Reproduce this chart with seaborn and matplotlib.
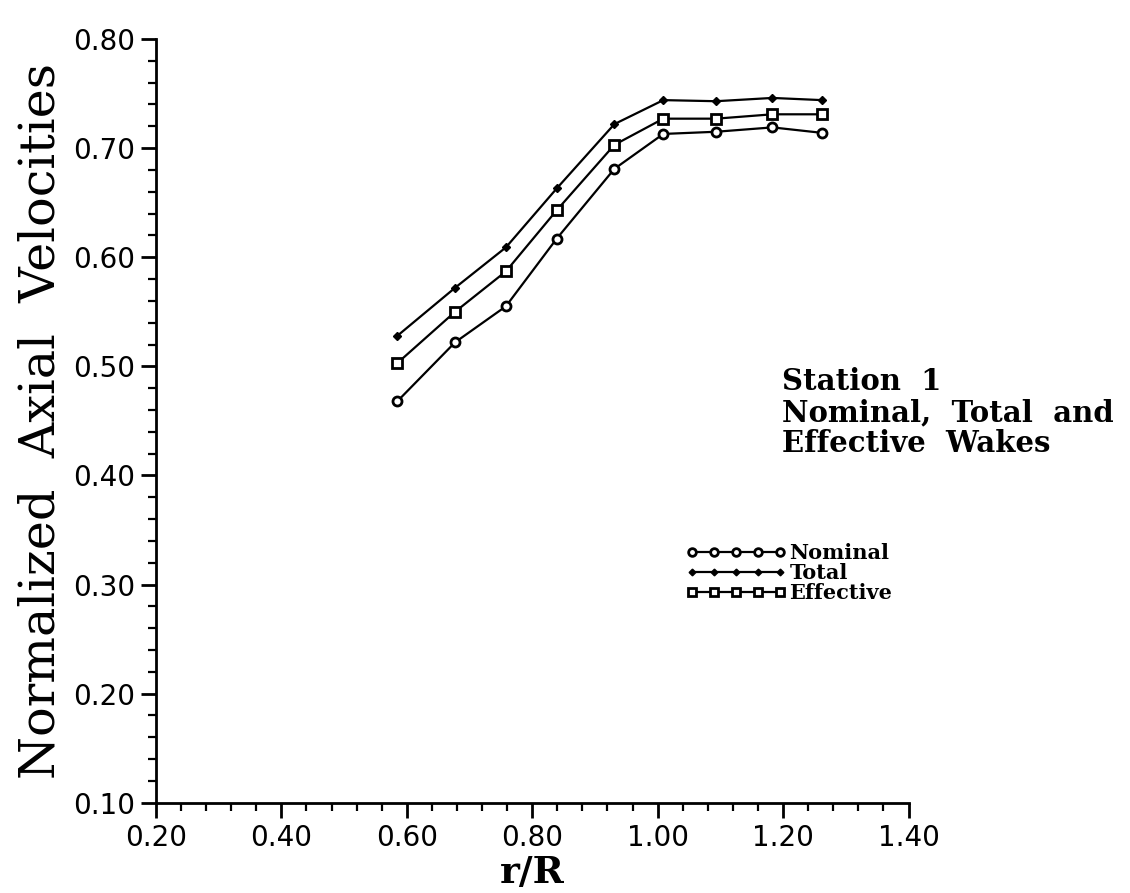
import matplotlib
matplotlib.use("Agg")
import matplotlib.pyplot as plt
import seaborn as sns
import pandas as pd
from matplotlib.ticker import MultipleLocator, FormatStrFormatter

# Radial stations and measured normalized axial velocities
r_over_R = [0.585, 0.677, 0.758, 0.839, 0.931, 1.009, 1.093, 1.183, 1.262]
nominal = [0.468, 0.522, 0.555, 0.617, 0.681, 0.713, 0.715, 0.719, 0.714]
total = [0.528, 0.572, 0.609, 0.663, 0.722, 0.744, 0.743, 0.746, 0.744]
effective = [0.503, 0.550, 0.587, 0.643, 0.703, 0.727, 0.727, 0.731, 0.731]

series_names = ["Nominal", "Total", "Effective"]
x_ticks = [0.20, 0.40, 0.60, 0.80, 1.00, 1.20, 1.40]
y_ticks = [0.10, 0.20, 0.30, 0.40, 0.50, 0.60, 0.70, 0.80]

df = pd.DataFrame({
    "r/R": r_over_R * 3,
    "V": nominal + total + effective,
    "wake": sum([[n] * len(r_over_R) for n in series_names], []),
})

sns.set_style("ticks")
plt.rcParams["font.family"] = ["DejaVu Sans"]
plt.rcParams["text.color"] = "black"
plt.rcParams["axes.labelcolor"] = "black"

fig = plt.figure(figsize=(11.3, 8.93), dpi=100)
ax = fig.add_axes([0.138, 0.1011, 0.666, 0.8552])

styles = {
    "Nominal": dict(marker="o", markersize=6.5, markerfacecolor="white",
                    markeredgewidth=2.0),
    "Total": dict(marker="D", markersize=4, markerfacecolor="black",
                  markeredgewidth=1.0),
    "Effective": dict(marker="s", markersize=6.5, markerfacecolor="white",
                      markeredgewidth=2.0),
}

handles = []
for name in series_names:
    sub = df[df["wake"] == name]
    sns.lineplot(data=sub, x="r/R", y="V", ax=ax, color="black",
                 linewidth=1.6, legend=False, markeredgecolor="black",
                 **styles[name])
    handles.append(ax.get_lines()[-1])

ax.set_xlim(0.20, 1.40)
ax.set_ylim(0.10, 0.80)
ax.set_xticks(x_ticks)
ax.set_yticks(y_ticks)
ax.xaxis.set_major_formatter(FormatStrFormatter("%.2f"))
ax.yaxis.set_major_formatter(FormatStrFormatter("%.2f"))
ax.xaxis.set_minor_locator(MultipleLocator(0.04))
ax.yaxis.set_minor_locator(MultipleLocator(0.02))

for s in ["top", "right"]:
    ax.spines[s].set_visible(False)
for s in ["left", "bottom"]:
    ax.spines[s].set_linewidth(2.0)
    ax.spines[s].set_color("black")

ax.tick_params(axis="both", which="major", direction="out", length=11,
               width=2.0, colors="black", labelsize=20, pad=4)
ax.tick_params(axis="both", which="minor", direction="out", length=6,
               width=1.6, colors="black")

ax.set_xlabel("r/R", family="DejaVu Serif", fontsize=27, fontweight="bold",
              labelpad=2)
ax.set_ylabel("Normalized  Axial  Velocities", family="DejaVu Serif",
              fontsize=35.5, labelpad=6)

ax.text(1.198, 0.499, "Station  1\nNominal,  Total  and\nEffective  Wakes",
        transform=ax.transData, family="DejaVu Serif", fontweight="bold",
        fontsize=21, ha="left", va="top", linespacing=1.08)

leg = ax.legend(handles, series_names, numpoints=5, loc="center left",
                bbox_to_anchor=(0.7045, 0.3008), frameon=False,
                borderaxespad=0, borderpad=0,
                handlelength=4.8, handletextpad=0.15, labelspacing=0.0,
                prop={"family": "DejaVu Serif", "weight": "bold", "size": 15})
for h in leg.legend_handles:
    h.set_markersize(h.get_markersize() * 0.85)

fig.savefig("out.png", dpi=100, facecolor="white")
